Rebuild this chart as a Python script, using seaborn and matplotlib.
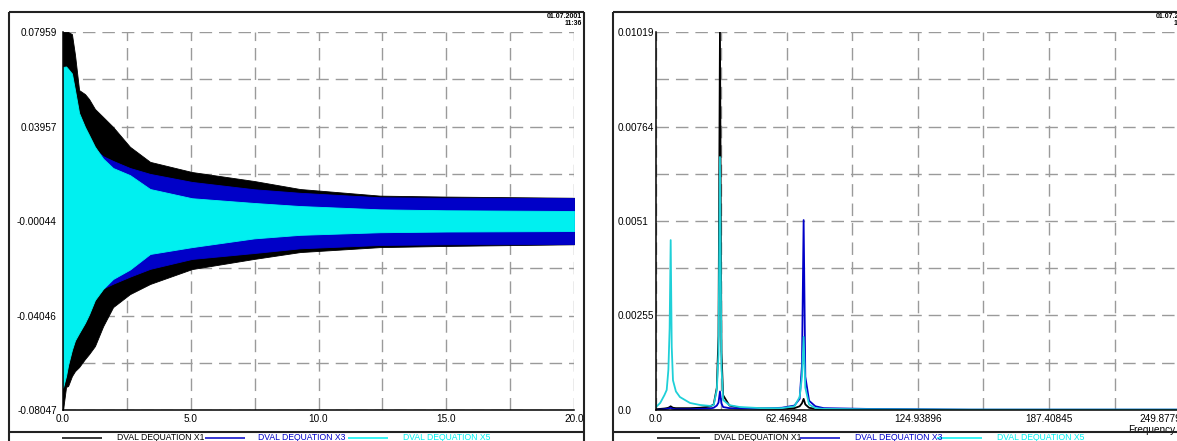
import matplotlib
matplotlib.use("Agg")
import matplotlib.pyplot as plt
from matplotlib.lines import Line2D
import pandas as pd
import seaborn as sns

W, H = 1177, 441

# ---- time response envelopes (upper / lower bound of each oscillating signal) ----
time_s = [0.0, 0.12, 0.2, 0.35, 0.47, 0.63, 0.86, 1.02, 1.25, 1.57, 1.96,
          2.62, 3.41, 5.05, 7.48, 9.28, 12.41, 14.99, 20.0]
x1_upper = [0.0796, 0.0796, 0.0796, 0.0787, 0.0699, 0.0550, 0.0533, 0.0512, 0.047,
            0.0436, 0.0394, 0.031, 0.0246, 0.0203, 0.0165, 0.0131, 0.0103, 0.0099, 0.0094]
x1_lower = [-0.0805, -0.0707, -0.0703, -0.0661, -0.064, -0.0623, -0.0589, -0.0568, -0.0534,
            -0.045, -0.0369, -0.0314, -0.0271, -0.0208, -0.0165, -0.0136, -0.0115, -0.0110, -0.0103]
x3_upper = [0.045, 0.046, 0.045, 0.043, 0.041, 0.038, 0.034, 0.032, 0.030, 0.027, 0.025,
            0.022, 0.0195, 0.0161, 0.013, 0.0115, 0.0096, 0.0094, 0.0093]
x3_lower = [-0.050, -0.050, -0.049, -0.047, -0.045, -0.041, -0.037, -0.035, -0.032, -0.029,
            -0.027, -0.024, -0.0207, -0.0165, -0.0140, -0.0120, -0.0106, -0.0103, -0.0102]
x5_upper = [0.0648, 0.065, 0.064, 0.062, 0.055, 0.0453, 0.0394, 0.036, 0.031, 0.026, 0.022,
            0.019, 0.0131, 0.0092, 0.0072, 0.0059, 0.0045, 0.0041, 0.0038]
x5_lower = [-0.071, -0.066, -0.0614, -0.055, -0.051, -0.0479, -0.0436, -0.040, -0.0339, -0.0292,
            -0.025, -0.021, -0.0144, -0.0115, -0.0078, -0.0063, -0.0052, -0.0049, -0.0047]

# ---- amplitude spectrum ----
freq_hz = [0, 2, 4, 5.1, 5.9, 6.5, 7.0, 7.5, 8.1, 9.5, 11.4, 16.2, 21, 25.7, 27.5, 29.0,
           29.8, 30.5, 31.2, 32.0, 35, 40, 50, 60, 66, 68.5, 69.6, 70.4, 71.2, 73, 76, 80,
           100, 150, 200, 249.88]
x1_amp = [0.00002, 0.00003, 0.00004, 0.00005, 0.00006, 0.00008, 0.0001, 0.00008, 0.00006,
          0.00005, 0.00005, 0.00005, 0.00006, 0.00009, 0.00015, 0.0006, 0.002, 0.01019,
          0.0016, 0.0004, 0.00012, 0.00006, 0.00004, 0.00003, 0.00005, 0.0001, 0.00018,
          0.0003, 0.00015, 0.00006, 0.00003, 0.00002, 0.00001, 0.0, 0.0, 0.0]
x3_amp = [0.0, 0.00001, 0.00002, 0.00003, 0.00004, 0.00005, 0.00006, 0.00004, 0.00003,
          0.00002, 0.00002, 0.00002, 0.00003, 0.00004, 0.00006, 0.00012, 0.0002, 0.0005,
          0.00018, 0.00008, 0.00005, 0.00004, 0.00004, 0.00006, 0.00012, 0.0003, 0.0012,
          0.00512, 0.0009, 0.00025, 0.0001, 0.00005, 0.00003, 0.00001, 0.00001, 0.00001]
x5_amp = [0.00008, 0.00019, 0.0004, 0.00054, 0.00108, 0.0022, 0.00458, 0.0017, 0.0008,
          0.0005, 0.00035, 0.00019, 0.000135, 0.00011, 0.00013, 0.00054, 0.0015, 0.00682,
          0.0012, 0.00027, 0.00013, 0.00008, 0.00005, 0.00005, 0.0001, 0.00035, 0.0009,
          0.00197, 0.0006, 0.00015, 0.00005, 0.00003, 0.00002, 0.00001, 0.00001, 0.00001]

# ---- axes annotation ----
time_ticks = [0.0, 5.0, 10.0, 15.0, 20.0]
time_labels = ["0.0", "5.0", "10.0", "15.0", "20.0"]
disp_ticks = [-0.08047, -0.04046, -0.00044, 0.03957, 0.07959]
disp_labels = ["-0.08047", "-0.04046", "-0.00044", "0.03957", "0.07959"]
freq_ticks = [0.0, 62.46948, 124.93896, 187.40845, 249.87793]
freq_labels = ["0.0", "62.46948", "124.93896", "187.40845", "249.87793"]
amp_ticks = [0.0, 0.00255, 0.0051, 0.00764, 0.01019]
amp_labels = ["0.0", "0.00255", "0.0051", "0.00764", "0.01019"]
series_names = ["DVAL DEQUATION X1", "DVAL DEQUATION X3", "DVAL DEQUATION X5"]
series_colors = ["#000000", "#0000c8", "#00f0f0"]
spectrum_colors = ["#000000", "#0000c8", "#1fd0d8"]
stamp_date = "01.07.2001"
stamp_time = "11:36"
freq_axis_name = "Frequency"

sns.set_style("white")
plt.rcParams["font.family"] = ["Liberation Sans", "DejaVu Sans"]
TXT = "#000000"
GRID = "#9a9a9a"
TICK_FS = 7.2

fig = plt.figure(figsize=(W / 100, H / 100), dpi=100)


def fx(px):
    return px / W


def fy(py):
    return 1 - py / H


def fig_line(x0, y0, x1, y1, color="#222222", lw=1.5):
    fig.add_artist(Line2D([fx(x0), fx(x1)], [fy(y0), fy(y1)], transform=fig.transFigure,
                          color=color, lw=lw, solid_capstyle="butt"))


def style_axes(ax, xt, yt, xlim, ylim):
    ax.set_xlim(*xlim)
    ax.set_ylim(*ylim)
    ax.set_xticks(xt)
    ax.set_yticks(yt)
    ax.set_xticks([(a + b) / 2 for a, b in zip(xt[:-1], xt[1:])], minor=True)
    ax.set_yticks([(a + b) / 2 for a, b in zip(yt[:-1], yt[1:])], minor=True)
    ax.grid(True, which="both", color=GRID, lw=1.0, ls=(0, (9, 5)))
    for s in ("top", "right"):
        ax.spines[s].set_visible(False)
    for s in ("left", "bottom"):
        ax.spines[s].set_color("#000000")
        ax.spines[s].set_linewidth(1.1)
    ax.tick_params(which="both", length=0)
    ax.set_xlabel("")
    ax.set_ylabel("")


# ---------------- time response panel ----------------
ax1 = fig.add_axes([fx(63), 31 / H, 511 / W, 378 / H])
for up, lo, col in zip([x1_upper, x3_upper, x5_upper], [x1_lower, x3_lower, x5_lower], series_colors):
    ax1.fill_between(time_s, lo, up, color=col, lw=0.6, edgecolor=col)
style_axes(ax1, time_ticks, disp_ticks, (0.0, 20.0), (disp_ticks[0], disp_ticks[-1]))
ax1.set_xticklabels(time_labels, fontsize=TICK_FS, color=TXT)
ax1.set_yticklabels(disp_labels, fontsize=TICK_FS, color=TXT)
ax1.tick_params(axis="x", pad=3)
ax1.tick_params(axis="y", pad=4.5)

# ---------------- spectrum panel ----------------
spec = pd.DataFrame({
    "freq": freq_hz * 3,
    "amp": x1_amp + x3_amp + x5_amp,
    "series": [series_names[0]] * len(freq_hz) + [series_names[1]] * len(freq_hz)
              + [series_names[2]] * len(freq_hz),
})
ax2 = fig.add_axes([fx(656), 31 / H, 524 / W, 378 / H])
sns.lineplot(data=spec, x="freq", y="amp", hue="series", hue_order=series_names,
             palette=spectrum_colors, estimator=None, sort=False, lw=1.3,
             legend=False, ax=ax2)
style_axes(ax2, freq_ticks, amp_ticks, (0.0, freq_ticks[-1]), (0.0, amp_ticks[-1]))
ax2.set_xticklabels(freq_labels[:-1] + [""], fontsize=TICK_FS, color=TXT)
ax2.set_yticklabels(amp_labels, fontsize=TICK_FS, color=TXT)
for lab in ax2.get_yticklabels():
    lab.set_horizontalalignment("left")
ax2.tick_params(axis="x", pad=3)
ax2.tick_params(axis="y", pad=27.5)
ax2.annotate(freq_labels[-1], xy=(1, 0), xycoords="axes fraction", xytext=(-29, -3),
             textcoords="offset points", ha="left", va="top", fontsize=TICK_FS, color=TXT,
             annotation_clip=False)
ax2.annotate(freq_axis_name, xy=(1, 0), xycoords="axes fraction", xytext=(-37, -10.5),
             textcoords="offset points", ha="left", va="top", fontsize=TICK_FS, color=TXT,
             annotation_clip=False)

# ---------------- panel frames, time stamps and legends ----------------
for left, right in ((9, 584), (613, 1193)):
    fig_line(left, 12, right, 12)
    fig_line(left, 12, left, H + 2)
    fig_line(right, 12, right, H + 2)
    fig_line(left, 432, right, 432)
    fig.text(fx(right - 2), fy(13), stamp_date, ha="right", va="top", fontsize=5,
             fontweight="bold", color=TXT)
    fig.text(fx(right - 2), fy(20), stamp_time, ha="right", va="top", fontsize=5,
             fontweight="bold", color=TXT)

legend_layout = [
    [(62, 102, 117), (205, 245, 258), (348, 388, 403)],
    [(657, 700, 714), (800, 840, 855), (937, 982, 997)],
]
for layout in legend_layout:
    for (s0, s1, tx), name, col in zip(layout, series_names, series_colors):
        fig_line(s0, 437.5, s1, 437.5, color=col, lw=1.1)
        fig.text(fx(tx), fy(433.5), name, ha="left", va="top", fontsize=6.2, color=col)

fig.savefig("out.png", dpi=100)
